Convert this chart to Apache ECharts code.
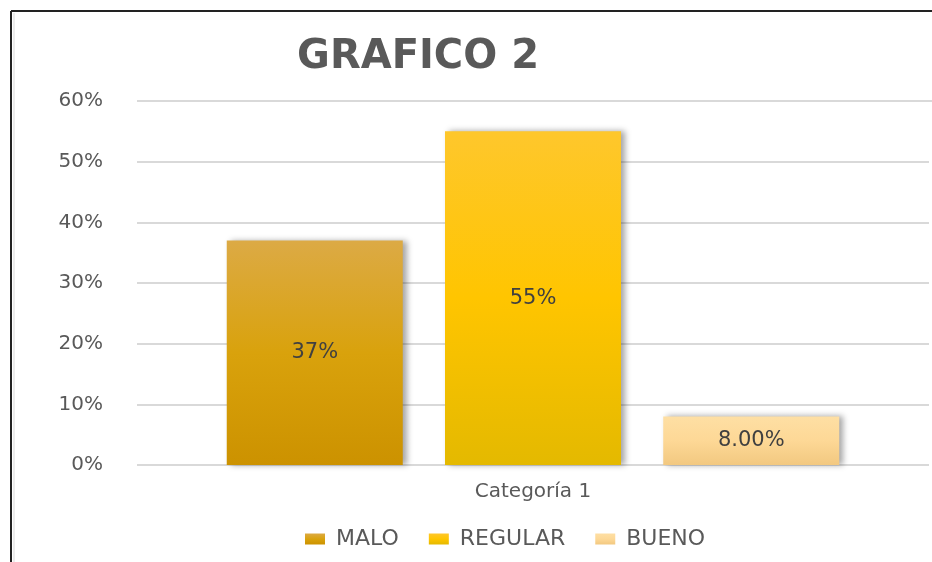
<!DOCTYPE html>
<html>
<head>
<meta charset="utf-8">
<script src="https://cdn.jsdelivr.net/npm/echarts@6/dist/echarts.min.js"></script>
<style>
  html, body { margin: 0; padding: 0; background: #fff; }
  #chart { width: 932px; height: 562px; }
</style>
</head>
<body>
<div id="chart"></div>
<script>
var categories = ['Categoría 1'];
var seriesNames = ['MALO', 'REGULAR', 'BUENO'];
var seriesValues = [[37], [55], [8]];
var labelDecimals = [0, 0, 2];
var yTicks = [0, 10, 20, 30, 40, 50, 60];

// degradados de cada barra (arriba -> abajo)
var gradients = [
    ['#dcaa45', '#d9a20c', '#cc9200'],
    ['#fec72c', '#ffc500', '#e4b900'],
    ['#fedfa4', '#fdd896', '#f2c880']
];

var myChart = echarts.init(document.getElementById('chart'), null, { renderer: 'canvas' });

var series = seriesNames.map(function (name, i) {
    var g = gradients[i];
    return {
        name: name,
        type: 'bar',
        barWidth: 176,
        barGap: '24%',
        data: seriesValues[i],
        itemStyle: {
            color: new echarts.graphic.LinearGradient(0, 0, 0, 1, [
                { offset: 0, color: g[0] },
                { offset: 0.5, color: g[1] },
                { offset: 1, color: g[2] }
            ]),
            shadowColor: 'rgba(0,0,0,0.35)',
            shadowBlur: 6,
            shadowOffsetX: 4,
            shadowOffsetY: 0
        },
        label: {
            show: true,
            position: 'inside',
            color: '#404040',
            fontSize: 21,
            fontFamily: 'DejaVu Sans',
            formatter: function (p) {
                return p.value.toFixed(labelDecimals[i]) + '%';
            }
        }
    };
});

var option = {
    backgroundColor: '#ffffff',
    title: {
        text: 'GRAFICO 2',
        left: 413,
        textAlign: 'center',
        top: 33,
        textStyle: {
            color: '#595959',
            fontSize: 40,
            fontWeight: 'bold',
            fontFamily: 'DejaVu Sans'
        }
    },
    legend: {
        data: seriesNames,
        left: 300,
        top: 523,
        itemWidth: 20,
        itemHeight: 11,
        itemGap: 30,
        icon: 'rect',
        textStyle: {
            color: '#595959',
            fontSize: 22,
            fontFamily: 'DejaVu Sans',
            padding: [0, 0, 0, 6]
        }
    },
    grid: {
        left: 137,
        right: 3,
        top: 101,
        bottom: 97,
        containLabel: false
    },
    xAxis: {
        type: 'category',
        data: categories,
        axisLine: { show: false },
        axisTick: { show: false },
        axisLabel: {
            color: '#595959',
            fontSize: 20,
            margin: 17,
            fontFamily: 'DejaVu Sans'
        }
    },
    yAxis: {
        type: 'value',
        min: yTicks[0],
        max: yTicks[yTicks.length - 1],
        interval: 10,
        axisLine: { show: false },
        axisTick: { show: false },
        axisLabel: {
            color: '#595959',
            fontSize: 20,
            margin: 34,
            fontFamily: 'DejaVu Sans',
            formatter: '{value}%'
        },
        splitLine: {
            lineStyle: { color: '#d9d9d9', width: 2 }
        }
    },
    graphic: [
        { type: 'line', shape: { x1: 11, y1: 11, x2: 932, y2: 11 }, style: { stroke: '#222', lineWidth: 2 } },
        { type: 'line', shape: { x1: 11, y1: 11, x2: 11, y2: 562 }, style: { stroke: '#222', lineWidth: 2 } },
        { type: 'line', shape: { x1: 14, y1: 13, x2: 14, y2: 562 }, style: { stroke: '#ececec', lineWidth: 2 } },
        { type: 'line', shape: { x1: 929, y1: 101, x2: 932, y2: 101 }, style: { stroke: '#d9d9d9', lineWidth: 2 } }
    ],
    series: series
};

myChart.setOption(option);
</script>
</body>
</html>
